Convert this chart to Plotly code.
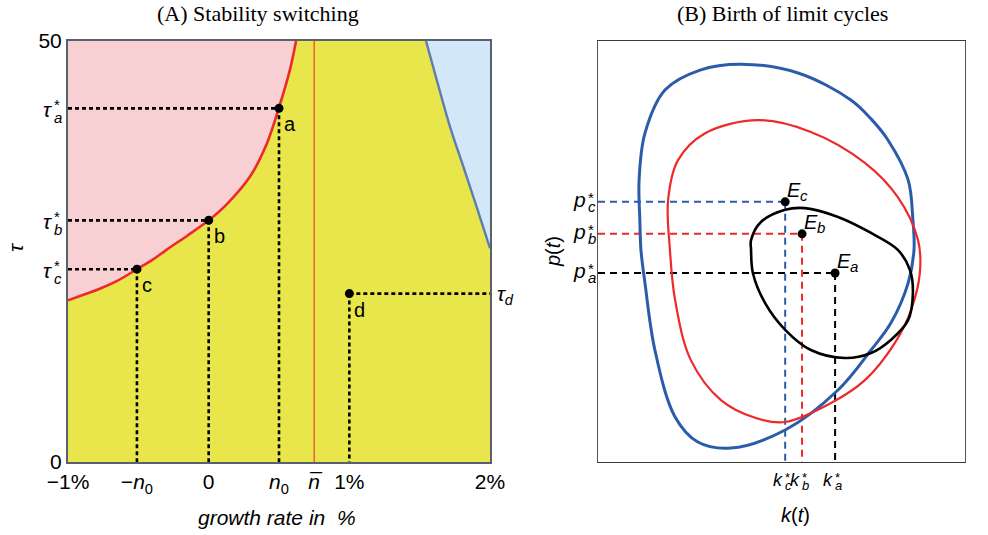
import plotly.graph_objects as go

# ---------------- Panel A data (growth rate in %, delay tau) ----------------
red_x = [-1.0, -0.9, -0.77, -0.64, -0.51, -0.4, -0.3, -0.15, 0.0, 0.128, 0.294, 0.413, 0.498, 0.578, 0.621]
red_tau = [19.2, 19.8, 20.6, 21.6, 22.9, 24.0, 25.2, 26.9, 28.7, 30.6, 33.9, 37.8, 42.0, 46.6, 50.0]
blue_x = [1.545, 1.621, 1.716, 1.81, 1.905, 2.0]
blue_tau = [50.0, 45.4, 39.8, 35.1, 30.3, 25.4]
nbar_x = 0.75
pt_labels = ["a", "b", "c", "d"]
pt_x = [0.5, 0.0, -0.51, 1.0]
pt_tau = [42.0, 28.7, 22.9, 20.0]
xA_tickvals = [-1, -0.51, 0, 0.5, 0.75, 1, 2]
xA_ticktext = ["\u22121%", "\u2212<i>n</i><sub>0</sub>", "0", "<i>n</i><sub>0</sub>",
               "<i>n\u0305</i>", "1%", "2%"]
yA_tickvals = [0, 50]
yA_ticktext = ["0", "50"]

# ---------------- Panel B data (k(t), p(t), arbitrary units 0-100) ----------------
blue_k = [39.0, 54.5, 68.9, 74.4, 79.0, 84.5, 85.8, 86.1, 84.5, 79.8, 74.4, 65.4, 51.0, 36.2, 27.2,
          21.0, 15.5, 12.8, 11.7, 11.4, 11.2, 12.8, 18.3, 27.8, 39.0]
blue_p = [94.5, 92.4, 86.0, 81.5, 76.5, 67.0, 57.5, 50.4, 42.5, 33.0, 26.6, 17.1, 7.6, 3.3, 4.75,
          10.7, 26.6, 42.5, 50.4, 57.5, 67.0, 78.1, 88.4, 93.1, 94.5]
red_k = [43.6, 58.0, 72.8, 81.7, 87.2, 87.7, 85.3, 80.9, 72.8, 63.5, 51.0, 42.8, 33.5, 25.3,
         21.0, 19.6, 19.1, 21.8, 29.2, 43.6]
red_p = [81.2, 78.4, 71.0, 62.9, 52.7, 44.9, 36.1, 28.3, 19.5, 14.0, 9.5, 10.5, 14.7, 24.2,
         38.5, 50.4, 62.2, 71.7, 78.1, 81.2]
black_k = [51.0, 56.4, 65.4, 74.4, 81.7, 85.0, 85.8, 84.5, 79.8, 74.4, 67.3, 58.0, 51.0, 45.5,
           42.2, 41.7, 41.7, 44.4, 51.0]
black_p = [59.9, 60.3, 58.2, 54.4, 50.4, 45.6, 40.1, 33.7, 29.0, 25.9, 24.7, 26.6, 31.4, 37.8,
           44.9, 50.4, 52.7, 57.0, 59.9]
eq_labels = ["a", "b", "c"]
eq_k = [64.6, 55.6, 51.0]
eq_p = [44.9, 54.2, 61.8]

# ---------------- styling ----------------
SANS = "Liberation Sans, Arial, sans-serif"
SERIF = "Liberation Serif, Times New Roman, serif"
PINK = "#F8CFD2"
YELLOW = "#E9E64B"
LIGHTBLUE = "#D2E8F8"
RED = "#EC2A2C"
STEEL = "#5B7DB3"
BLUE = "#2B5CAB"
FRAME = "#59606E"

W, H = 988, 535
fig = go.Figure()

# ---- Panel A ----
fig.add_shape(type="rect", xref="x domain", yref="y domain", x0=0, x1=1, y0=0, y1=1,
              fillcolor=YELLOW, line_width=0, layer="below")
fig.add_trace(go.Scatter(x=red_x + [-1.0], y=red_tau + [50.0], fill="toself", fillcolor=PINK,
                         mode="lines", line=dict(width=0), hoverinfo="skip", xaxis="x", yaxis="y"))
fig.add_trace(go.Scatter(x=blue_x + [2.0], y=blue_tau + [50.0], fill="toself", fillcolor=LIGHTBLUE,
                         mode="lines", line=dict(width=0), hoverinfo="skip", xaxis="x", yaxis="y"))
fig.add_trace(go.Scatter(x=red_x, y=red_tau, mode="lines",
                         line=dict(color=RED, width=2.6, shape="spline", simplify=False),
                         xaxis="x", yaxis="y"))
fig.add_trace(go.Scatter(x=blue_x, y=blue_tau, mode="lines",
                         line=dict(color=STEEL, width=2.4, shape="spline", simplify=False),
                         xaxis="x", yaxis="y"))
fig.add_trace(go.Scatter(x=[nbar_x, nbar_x], y=[0, 50], mode="lines", line=dict(color="#F0402A", width=1.2),
                         xaxis="x", yaxis="y"))
DOT = "4px,3px"
for lab, px, pt in zip(pt_labels, pt_x, pt_tau):
    hx = [-1.0, px] if lab != "d" else [px, 2.0]
    fig.add_trace(go.Scatter(x=hx, y=[pt, pt], mode="lines", line=dict(color="black", width=2.6, dash=DOT),
                             xaxis="x", yaxis="y"))
    fig.add_trace(go.Scatter(x=[px, px], y=[pt, 0], mode="lines", line=dict(color="black", width=2.6, dash=DOT),
                             xaxis="x", yaxis="y"))
fig.add_trace(go.Scatter(x=pt_x, y=pt_tau, mode="markers", marker=dict(color="black", size=9),
                         xaxis="x", yaxis="y"))

# ---- Panel B ----
DASH = "7px,5px"
eq_colors = ["black", RED, BLUE]
for k, p, c in zip(eq_k, eq_p, eq_colors):
    fig.add_trace(go.Scatter(x=[0, k], y=[p, p], mode="lines", line=dict(color=c, width=2, dash=DASH),
                             xaxis="x2", yaxis="y2"))
    fig.add_trace(go.Scatter(x=[k, k], y=[p, 0], mode="lines", line=dict(color=c, width=2, dash=DASH),
                             xaxis="x2", yaxis="y2"))
fig.add_trace(go.Scatter(x=blue_k, y=blue_p, mode="lines",
                         line=dict(color=BLUE, width=3, shape="spline", simplify=False),
                         xaxis="x2", yaxis="y2"))
fig.add_trace(go.Scatter(x=red_k, y=red_p, mode="lines",
                         line=dict(color=RED, width=2.2, shape="spline", simplify=False),
                         xaxis="x2", yaxis="y2"))
fig.add_trace(go.Scatter(x=black_k, y=black_p, mode="lines",
                         line=dict(color="black", width=2.6, shape="spline", simplify=False),
                         xaxis="x2", yaxis="y2"))
fig.add_trace(go.Scatter(x=eq_k, y=eq_p, mode="markers", marker=dict(color="black", size=9),
                         xaxis="x2", yaxis="y2"))

# ---------------- annotations ----------------
ann = []


def txt(text, x, y, xref, yref, size, xanchor="center", yanchor="middle", xshift=0, yshift=0,
        family=SANS, angle=0):
    ann.append(dict(text=text, x=x, y=y, xref=xref, yref=yref, showarrow=False, xanchor=xanchor,
                    yanchor=yanchor, xshift=xshift, yshift=yshift, textangle=angle,
                    font=dict(family=family, size=size, color="black")))


def stacked(base, sub, x, y, xref, yref, bx, by, sx, sup_dy, sub_dy, bsize=21, ssize=15):
    txt("<i>%s</i>" % base, x, y, xref, yref, bsize, xanchor="right", xshift=bx, yshift=by)
    txt("*", x, y, xref, yref, ssize, xanchor="left", xshift=sx, yshift=sup_dy)
    txt("<i>%s</i>" % sub, x, y, xref, yref, ssize, xanchor="left", xshift=sx, yshift=sub_dy)


# titles
txt("(A) Stability switching", 258 / W, 1 - 14 / H, "paper", "paper", 22, family=SERIF)
txt("(B) Birth of limit cycles", 782 / W, 1 - 14 / H, "paper", "paper", 22, family=SERIF)

# panel A labels
for lab, px, pt in zip(pt_labels, pt_x, pt_tau):
    txt(lab, px, pt, "x", "y", 20, xanchor="left", xshift=3, yshift=-16)
for lab, pt in zip(pt_labels[:3], pt_tau[:3]):
    stacked("\u03c4", lab, -1.0, pt, "x", "y", -14, -1, -16, 4, -9)
txt("<i>\u03c4<sub>d</sub></i>", 2.0, pt_tau[3], "x", "y", 21, xanchor="left", xshift=5, yshift=-1)
txt("<i>\u03c4</i>", 15 / W, 1 - 248 / H, "paper", "paper", 21, angle=-90)
txt("<i>growth rate in  %</i>", 277 / W, 1 - 517 / H, "paper", "paper", 21)

# panel B labels
for lab, k, p in zip(eq_labels, eq_k, eq_p):
    txt("<i>E</i>", k, p, "x2", "y2", 20, xanchor="left", xshift=0, yshift=12)
    txt("<i>%s</i>" % lab, k, p, "x2", "y2", 15, xanchor="left", xshift=13, yshift=6)
    stacked("p", lab, 0, p, "x2", "y2", -10, 2, -12, 4, -5)
    stacked("k", lab, k, 0, "x2", "y2", 0, -18, -2, -15, -23, bsize=18, ssize=13)
txt("<i>p</i>(<i>t</i>)", 553 / W, 1 - 252 / H, "paper", "paper", 20, angle=-90)
txt("<i>k</i>(<i>t</i>)", 795 / W, 1 - 515 / H, "paper", "paper", 20)

ydom = [(H - 462) / H, (H - 41) / H]
fig.update_layout(
    width=W, height=H, margin=dict(l=0, r=0, t=0, b=0, autoexpand=False),
    paper_bgcolor="white", plot_bgcolor="white", showlegend=False,
    annotations=ann,
    xaxis=dict(domain=[68 / W, 490 / W], range=[-1, 2], tickvals=xA_tickvals, ticktext=xA_ticktext,
               showgrid=False, zeroline=False, ticks="", showline=True, mirror=True, automargin=False,
               linecolor=FRAME, linewidth=2, tickfont=dict(family=SANS, size=21, color="black")),
    yaxis=dict(domain=ydom, range=[0, 50], tickvals=yA_tickvals, ticktext=yA_ticktext,
               showgrid=False, zeroline=False, ticks="", showline=True, mirror=True, automargin=False,
               linecolor=FRAME, linewidth=2, tickfont=dict(family=SANS, size=21, color="black")),
    xaxis2=dict(domain=[598 / W, 965 / W], range=[0, 100], anchor="y2", showticklabels=False,
                showgrid=False, zeroline=False, ticks="", showline=True, mirror=True, automargin=False,
                linecolor="#3A3A3A", linewidth=1.3),
    yaxis2=dict(domain=ydom, range=[0, 100], anchor="x2", showticklabels=False,
                showgrid=False, zeroline=False, ticks="", showline=True, mirror=True, automargin=False,
                linecolor="#555555", linewidth=1.3),
)

fig.write_html("out.html", config={"displayModeBar": False},
               post_script="document.body.style.margin='0';document.body.style.overflow='hidden';")
